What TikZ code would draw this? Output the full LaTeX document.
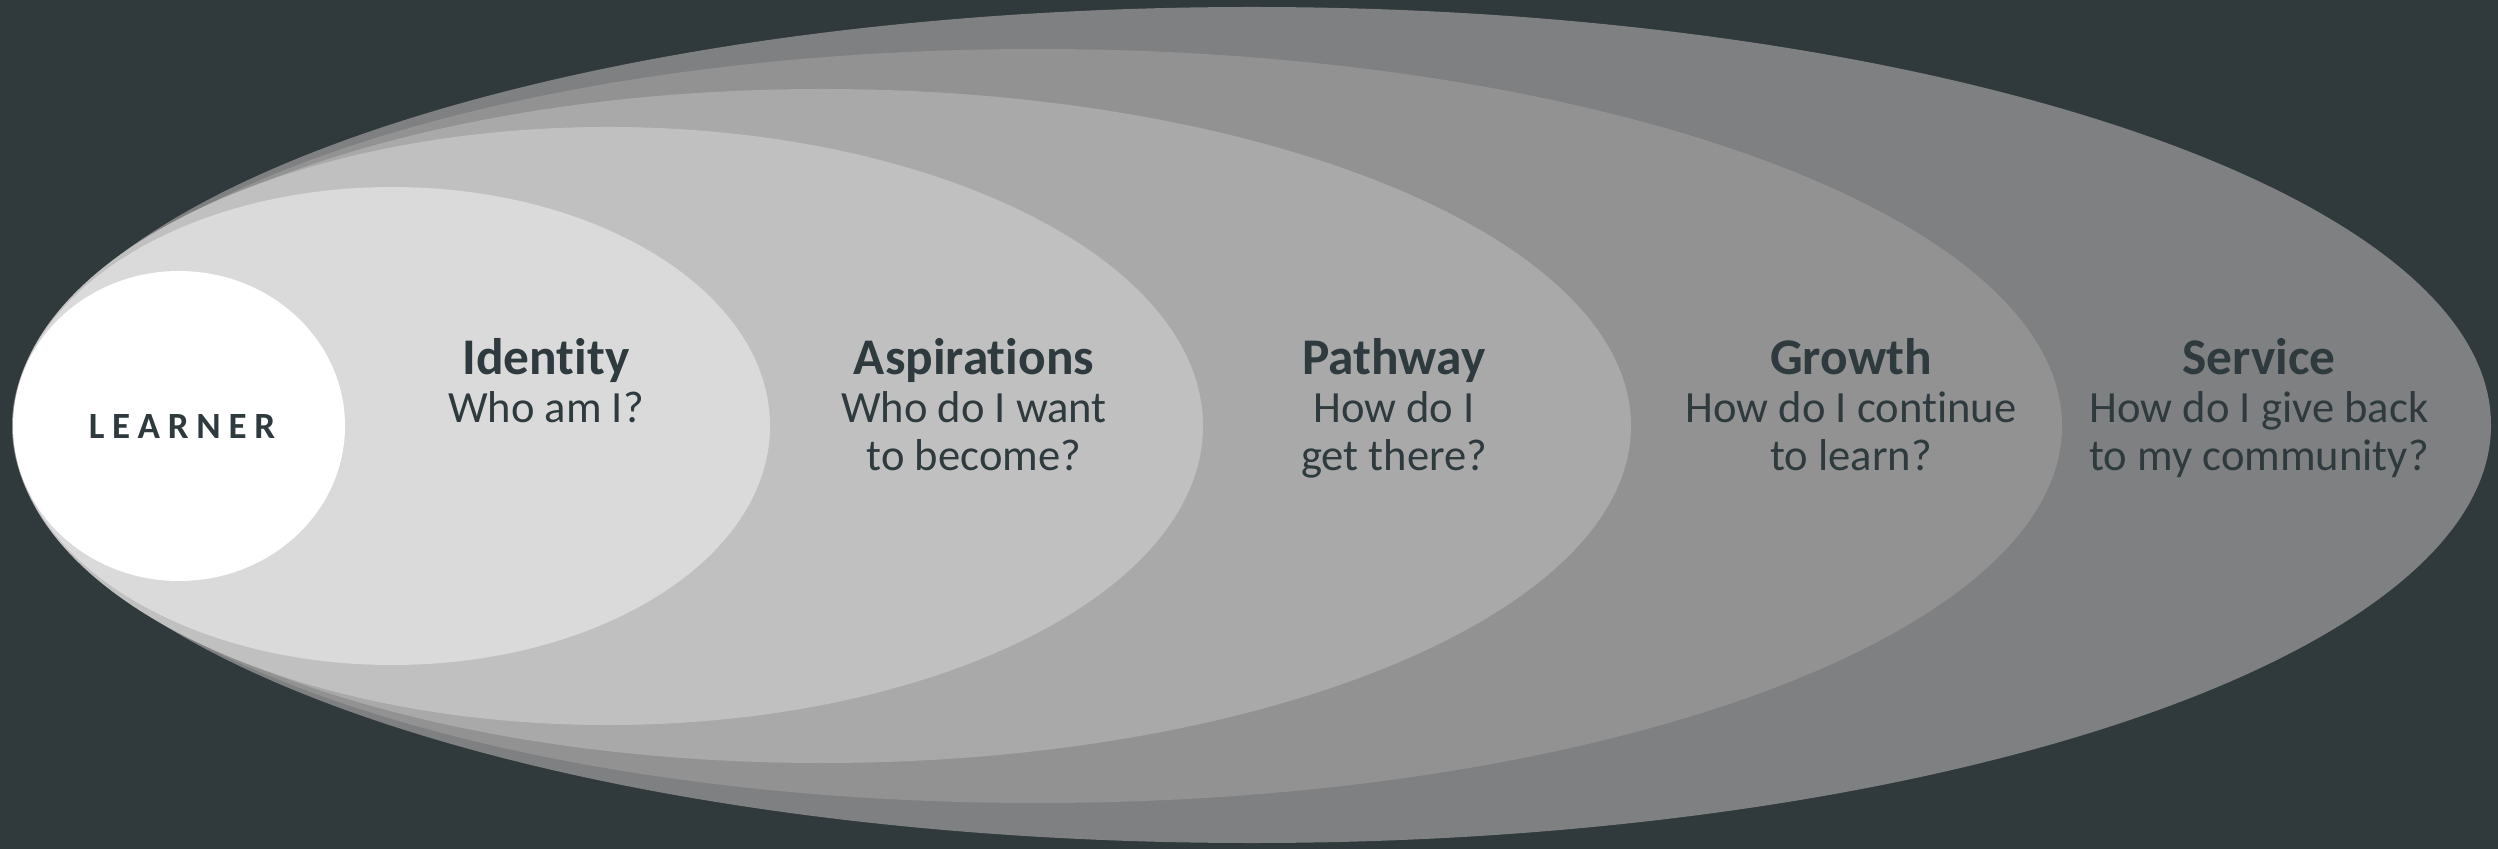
\documentclass[tikz,border=0pt]{standalone}
\usepackage{fontspec}
\setmainfont{Carlito}[Ligatures={NoCommon}]
\usetikzlibrary{shapes.geometric}
\definecolor{bg}{HTML}{30393B}
\definecolor{ink}{HTML}{2E3A3D}
\definecolor{cService}{HTML}{7F8081}
\definecolor{cGrowth}{HTML}{929292}
\definecolor{cPathway}{HTML}{A9A9A9}
\definecolor{cAspir}{HTML}{C0C0C0}
\definecolor{cIdent}{HTML}{DADADA}
\definecolor{cLearner}{HTML}{FFFFFF}
\tikzset{
  ring/.style={ellipse, inner sep=0pt, outer sep=0pt, draw=none},
  title/.style={anchor=base, text=ink, inner sep=0pt, font=\fontsize{25.7}{30}\selectfont\bfseries},
  quest/.style={anchor=base, text=ink, inner sep=0pt, font=\fontsize{22.3}{25}\selectfont},
  core/.style={anchor=base, text=ink, inner sep=0pt, font=\fontsize{18.5}{22}\selectfont\bfseries\addfontfeatures{LetterSpace=21}}
}
\begin{document}
\begin{tikzpicture}[x=0.5pt,y=-0.5pt]
\fill[bg] (0,0) rectangle (2498,849);
\useasboundingbox (0,0) rectangle (2498,849);
% rings (minimum width in pt = radius in px, since 1px = 0.5pt)
\node[ring, fill=cService, minimum width=1239pt, minimum height=418pt] (service) at (1252,425) {};
\node[ring, fill=cGrowth, minimum width=1025pt, minimum height=377pt] (growth) at (1037,426) {};
\node[ring, fill=cPathway, minimum width=809pt, minimum height=337pt] (pathway) at (822,426) {};
\node[ring, fill=cAspir, minimum width=595pt, minimum height=299pt] (aspir) at (608,426) {};
\node[ring, fill=cIdent, minimum width=378pt, minimum height=239pt] (ident) at (392,426) {};
\node[ring, fill=cLearner, minimum width=166pt, minimum height=155pt] (learner) at (179,426) {};
% labels
\node[core] (tLearner) at (182,439) {LEARNER};
\node[title] (tIdent) at (546,375) {Identity};
\node[quest] (qIdent1) at (546,423) {Who am I?};
\node[title] (tAspir) at (974,375) {Aspirations};
\node[quest] (qAspir1) at (974,423) {Who do I want};
\node[quest] (qAspir2) at (974,471) {to become?};
\node[title] (tPath) at (1394,375) {Pathway};
\node[quest] (qPath1) at (1394,423) {How do I};
\node[quest] (qPath2) at (1394,471) {get there?};
\node[title] (tGrowth) at (1851,375) {Growth};
\node[quest] (qGrowth1) at (1851,423) {How do I continue};
\node[quest] (qGrowth2) at (1851,471) {to learn?};
\node[title] (tService) at (2259,375) {Service};
\node[quest] (qService1) at (2259,423) {How do I give back};
\node[quest] (qService2) at (2259,471) {to my community?};
\end{tikzpicture}
\end{document}
